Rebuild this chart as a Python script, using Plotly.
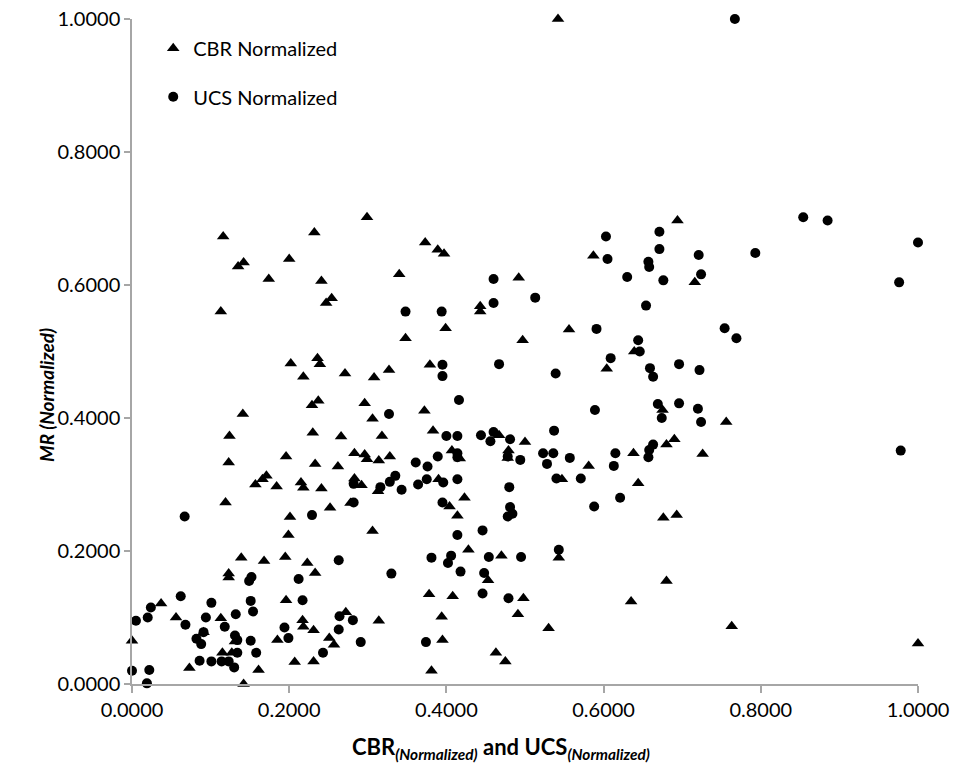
import plotly.graph_objects as go

# CBR Normalized (triangles)
cbr_x = [0.116,0.232,0.142,0.135,0.200,0.174,0.241,0.254,0.247,0.113,
         0.202,0.236,0.239,0.218,0.271,0.237,0.229,0.141,0.124,0.230,0.266,0.196,0.123,0.233,0.262,
         0.171,0.166,0.157,0.184,0.215,0.218,0.241,0.119,0.252,0.201,
         0.199,0.139,0.168,0.195,0.223,0.233,0.123,0.123,0.037,0.056,0.113,0.196,0.217,0.218,0.231,
         0.000,0.091,0.115,0.127,0.131,0.073,0.161,0.142,0.185,0.207,0.231,0.251,0.257,
         0.299,0.373,0.389,0.397,0.340,0.492,0.443,0.443,0.399,0.348,0.497,
         0.379,0.308,0.327,0.296,0.372,0.306,0.318,0.383,0.467,0.500,0.283,0.296,0.299,0.314,0.328,
         0.407,0.417,0.479,0.478,0.283,0.292,0.313,0.390,0.423,0.404,0.414,0.278,
         0.306,0.428,0.470,0.543,0.453,0.378,0.408,0.498,0.491,0.394,0.272,0.314,0.530,0.395,0.463,0.475,0.381,
         0.694,0.587,0.716,0.556,0.639,
         0.604,0.675,0.756,0.690,0.680,0.638,0.726,0.581,0.547,0.644,0.676,0.693,
         0.680,0.635,0.763,1.000,0.542]
cbr_y = [0.673,0.679,0.634,0.628,0.639,0.609,0.606,0.580,0.573,0.560,
         0.482,0.490,0.481,0.462,0.467,0.426,0.419,0.406,0.373,0.378,0.372,0.342,0.333,0.331,0.327,
         0.313,0.308,0.300,0.297,0.303,0.295,0.294,0.273,0.265,0.251,
         0.224,0.190,0.185,0.191,0.182,0.167,0.166,0.160,0.121,0.100,0.099,0.126,0.096,0.086,0.081,
         0.065,0.078,0.047,0.047,0.064,0.024,0.021,0.000,0.066,0.033,0.034,0.069,0.059,
         0.702,0.664,0.653,0.647,0.616,0.611,0.568,0.560,0.535,0.520,0.517,
         0.480,0.461,0.472,0.422,0.411,0.399,0.373,0.381,0.374,0.364,0.347,0.345,0.338,0.336,0.342,
         0.351,0.339,0.351,0.340,0.309,0.299,0.290,0.308,0.280,0.267,0.253,0.272,
         0.230,0.202,0.193,0.190,0.156,0.135,0.132,0.129,0.105,0.101,0.108,0.095,0.084,0.066,0.047,0.034,0.020,
         0.697,0.644,0.604,0.533,0.500,
         0.474,0.412,0.394,0.368,0.360,0.347,0.346,0.328,0.308,0.302,0.250,0.254,
         0.155,0.124,0.087,0.061,1.000]

# UCS Normalized (circles)
ucs_x = [0.067,0.229,
         0.263,0.152,0.149,0.212,0.062,0.101,0.151,0.154,0.217,0.024,0.020,0.005,0.094,0.068,0.118,0.132,
         0.264,0.263,0.194,0.199,0.082,0.088,0.091,0.131,0.134,0.151,0.134,0.158,0.243,0.086,0.101,0.114,
         0.123,0.130,0.000,0.022,0.019,
         0.460,0.513,0.460,0.348,0.394,
         0.395,0.395,0.467,0.539,0.416,0.327,0.400,0.414,0.444,0.460,0.456,0.481,0.537,0.414,0.414,0.389,
         0.361,0.376,0.478,0.494,0.523,0.536,0.528,0.282,0.335,0.328,0.316,0.343,0.364,0.375,0.396,0.414,
         0.540,0.480,0.395,0.282,0.481,0.484,0.478,
         0.414,0.446,0.381,0.406,0.402,0.454,0.495,0.543,0.330,0.418,0.448,0.446,0.479,0.281,0.291,0.374,
         0.671,0.603,0.671,0.605,0.721,0.793,0.657,0.658,0.630,0.676,0.724,0.654,0.591,0.754,0.769,0.644,
         0.646,0.609,
         0.659,0.663,0.696,0.722,0.589,0.669,0.674,0.696,0.720,0.724,0.663,0.658,0.657,0.615,0.557,0.613,
         0.571,0.621,0.588,
         0.854,0.885,1.000,0.976,0.978,0.767]
ucs_y = [0.252,0.254,
         0.186,0.161,0.155,0.158,0.132,0.122,0.125,0.109,0.126,0.115,0.100,0.095,0.100,0.089,0.086,0.105,
         0.102,0.082,0.085,0.069,0.068,0.060,0.078,0.073,0.066,0.065,0.047,0.047,0.047,0.035,0.034,0.034,
         0.034,0.025,0.020,0.021,0.001,
         0.609,0.581,0.573,0.560,0.560,
         0.480,0.463,0.481,0.467,0.427,0.406,0.373,0.373,0.374,0.379,0.365,0.368,0.381,0.347,0.341,0.342,
         0.333,0.327,0.342,0.337,0.347,0.347,0.331,0.301,0.313,0.304,0.296,0.292,0.300,0.308,0.303,0.308,
         0.309,0.296,0.273,0.273,0.266,0.256,0.252,
         0.224,0.231,0.190,0.193,0.182,0.191,0.191,0.202,0.166,0.169,0.167,0.136,0.129,0.096,0.063,0.063,
         0.680,0.673,0.654,0.639,0.645,0.648,0.635,0.627,0.612,0.607,0.616,0.569,0.534,0.535,0.520,0.517,
         0.500,0.490,
         0.475,0.462,0.481,0.472,0.412,0.421,0.400,0.422,0.414,0.394,0.360,0.352,0.341,0.347,0.340,0.328,
         0.309,0.280,0.267,
         0.702,0.697,0.664,0.604,0.351,1.000]

tick_vals = [0, 0.2, 0.4, 0.6, 0.8, 1.0]
x_title = "CBR<sub><i>(Normalized)</i></sub> and UCS<sub><i>(Normalized)</i></sub>"
y_title = "<i>MR (Normalized)</i>"

FONT = "Lato, 'Open Sans', 'Liberation Sans', sans-serif"
AXIS_COLOR = "#A6A6A6"

fig = go.Figure()
fig.add_trace(go.Scatter(
    x=cbr_x, y=cbr_y, mode="markers", name="CBR Normalized",
    marker=dict(symbol="triangle-up", size=11, color="black"),
    cliponaxis=False, legend="legend", showlegend=True))
fig.add_trace(go.Scatter(
    x=ucs_x, y=ucs_y, mode="markers", name="UCS Normalized",
    marker=dict(symbol="circle", size=10, color="black"),
    cliponaxis=False, legend="legend2", showlegend=True))

fig.update_layout(
    width=960, height=774,
    margin=dict(l=132, r=42, t=19, b=90),
    paper_bgcolor="white", plot_bgcolor="white",
    showlegend=True, hovermode=False,
    font=dict(family=FONT, size=16, color="black"),
    legend=dict(x=0.027, y=0.956, xanchor="left", yanchor="middle",
                bgcolor="rgba(0,0,0,0)", font=dict(size=20)),
    legend2=dict(x=0.027, y=0.883, xanchor="left", yanchor="middle",
                 bgcolor="rgba(0,0,0,0)", font=dict(size=20)),
    annotations=[
        dict(text=x_title, xref="paper", yref="paper", x=0.47, y=-0.096,
             xanchor="center", yanchor="middle", showarrow=False,
             font=dict(size=22, weight="bold")),
        dict(text=y_title, xref="paper", yref="paper", x=-0.109, y=0.435,
             xanchor="center", yanchor="middle", showarrow=False, textangle=-90,
             font=dict(size=19, weight="bold")),
    ],
)
fig.update_xaxes(
    range=[0, 1], tickvals=tick_vals, tickformat=".4f", automargin=False,
    ticklabeloverflow="allow",
    showgrid=False, zeroline=False, showline=True, linecolor=AXIS_COLOR, linewidth=1.5,
    ticks="outside", tickcolor=AXIS_COLOR, ticklen=7, tickwidth=1.5,
    tickfont=dict(size=20),
)
fig.update_yaxes(
    range=[0, 1], tickvals=tick_vals, tickformat=".4f", automargin=False,
    ticklabeloverflow="allow",
    showgrid=False, zeroline=False, showline=True, linecolor=AXIS_COLOR, linewidth=1.5,
    ticks="outside", tickcolor=AXIS_COLOR, ticklen=6, tickwidth=1.5,
    tickfont=dict(size=20),
)

# remove the browser's default 8px body margin so the 960x774 figure fills the window
fig.write_html("out.html", config={"displayModeBar": False},
               post_script="document.body.style.margin='0';document.body.style.overflow='hidden';")
